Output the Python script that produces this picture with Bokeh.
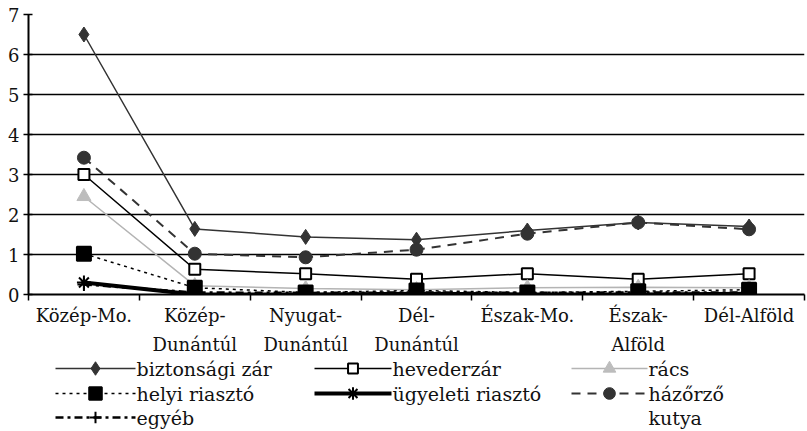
from bokeh.plotting import figure
from bokeh.models import Range1d, FixedTicker
from bokeh.layouts import column
from bokeh.embed import file_html
from bokeh.resources import INLINE
from bokeh.core.properties import value

categories = ["Közép-Mo.", "Közép-\nDunántúl", "Nyugat-\nDunántúl", "Dél-\nDunántúl",
              "Észak-Mo.", "Észak-\nAlföld", "Dél-Alföld"]
y_ticks = [0, 1, 2, 3, 4, 5, 6, 7]

biztonsagi_zar = [6.5, 1.64, 1.44, 1.37, 1.6, 1.8, 1.7]
hevederzar = [3.0, 0.63, 0.52, 0.38, 0.52, 0.38, 0.52]
racs = [2.45, 0.22, 0.15, 0.12, 0.17, 0.18, 0.17]
helyi_riaszto = [1.02, 0.17, 0.05, 0.1, 0.05, 0.08, 0.12]
ugyeleti_riaszto = [0.3, 0.0, 0.0, 0.02, 0.0, 0.0, 0.02]
hazorzo_kutya = [3.42, 1.02, 0.93, 1.12, 1.52, 1.8, 1.63]
egyeb = [0.25, 0.05, 0.04, 0.05, 0.04, 0.05, 0.05]

series_names = ["biztonsági zár", "hevederzár", "rács", "helyi riasztó",
                "ügyeleti riasztó", "házőrző\nkutya", "egyéb"]

FONT = "DejaVu Serif"
FS = "18px"
LFS = "19px"

styles = [
    dict(data=biztonsagi_zar, color="#333333", width=1.5, dash="solid", marker="diamond", size=15,
         fill="#333333", mline="#333333"),
    dict(data=hevederzar, color="#000000", width=1.5, dash="solid", marker="square", size=11,
         fill="#ffffff", mline="#000000"),
    dict(data=racs, color="#b4b4b4", width=1.5, dash="solid", marker="triangle", size=14,
         fill="#bdbdbd", mline="#bdbdbd"),
    dict(data=helyi_riaszto, color="#000000", width=1.5, dash="3 4", marker="square", size=14,
         fill="#000000", mline="#000000"),
    dict(data=ugyeleti_riaszto, color="#000000", width=4, dash="solid", marker="asterisk", size=14,
         fill="#000000", mline="#000000"),
    dict(data=hazorzo_kutya, color="#333333", width=2, dash="9 7", marker="circle", size=13,
         fill="#333333", mline="#333333"),
    dict(data=egyeb, color="#000000", width=2.5, dash="8 4 3 4", marker="cross", size=13,
         fill="#000000", mline="#000000"),
]

xs = list(range(len(categories)))

FRAME_L, FRAME_R = 28, 804
W = 807

p = figure(width=W, height=357, x_range=Range1d(-0.5, 6.5), y_range=Range1d(0, 7),
           output_backend="svg", toolbar_location=None,
           min_border_left=FRAME_L, min_border_right=W - FRAME_R, min_border_top=14,
           min_border_bottom=62)
p.outline_line_color = None
p.background_fill_color = "white"
p.border_fill_color = "white"

p.xgrid.visible = False
p.ygrid.ticker = FixedTicker(ticks=y_ticks)
p.ygrid.grid_line_color = "black"
p.ygrid.grid_line_width = 1.6

xa = p.xaxis[0]
xa.ticker = FixedTicker(ticks=xs, minor_ticks=[i - 0.5 for i in range(len(categories) + 1)])
xa.major_label_overrides = {i: c for i, c in enumerate(categories)}
xa.major_tick_in = 0
xa.major_tick_out = 0
xa.minor_tick_in = 0
xa.minor_tick_out = 6
xa.minor_tick_line_color = "black"
xa.minor_tick_line_width = 1.5
xa.axis_line_width = 2
xa.axis_line_color = "black"
xa.major_label_text_font = FONT
xa.major_label_text_font_size = FS
xa.major_label_text_color = "#111111"
xa.major_label_text_line_height = 1.4
xa.major_label_standoff = 4

ya = p.yaxis[0]
ya.ticker = FixedTicker(ticks=y_ticks)
ya.minor_tick_line_color = None
ya.major_tick_in = 4
ya.major_tick_out = 5
ya.major_tick_line_width = 1.5
ya.axis_line_width = 2
ya.axis_line_color = "black"
ya.major_label_text_font = FONT
ya.major_label_text_font_size = FS
ya.major_label_text_color = "#111111"
ya.major_label_standoff = 4

for s in styles:
    p.line(xs, s["data"], line_color=s["color"], line_width=s["width"], line_dash=s["dash"])
    p.scatter(xs, s["data"], marker=s["marker"], size=s["size"], fill_color=s["fill"],
              line_color=s["mline"], line_width=2 if s["marker"] in ("asterisk", "cross", "square") else 1)

# legend panel (data coordinates = page pixels)
LH = 431 - 357
leg = figure(width=W, height=LH, x_range=Range1d(FRAME_L, FRAME_R), y_range=Range1d(0, LH),
             output_backend="svg", toolbar_location=None,
             x_axis_location=None, y_axis_location=None,
             min_border_left=FRAME_L, min_border_right=W - FRAME_R, min_border_top=0,
             min_border_bottom=0)
leg.outline_line_color = None
leg.grid.visible = False

col_line = [(55, 135), (314, 391), (571, 647)]
rows = [LH - (368 - 357), LH - (393 - 357), LH - (417 - 357)]
for i, (name, s) in enumerate(zip(series_names, styles)):
    r, c = divmod(i, 3)
    x0, x1 = col_line[c]
    y = rows[r]
    leg.line([x0, x1], [y, y], line_color=s["color"], line_width=s["width"], line_dash=s["dash"])
    leg.scatter([(x0 + x1) / 2], [y], marker=s["marker"], size=s["size"] * 0.9, fill_color=s["fill"],
                line_color=s["mline"], line_width=2 if s["marker"] in ("asterisk", "cross", "square") else 1)
    leg.text([x1 + 1], [y + 11], text=[name], text_font=value(FONT), text_font_size=LFS,
             text_baseline="top", text_align="left", text_color="#111111", text_line_height=1.1)

layout = column(p, leg, spacing=0)
open("out.html", "w").write(file_html(layout, INLINE))
